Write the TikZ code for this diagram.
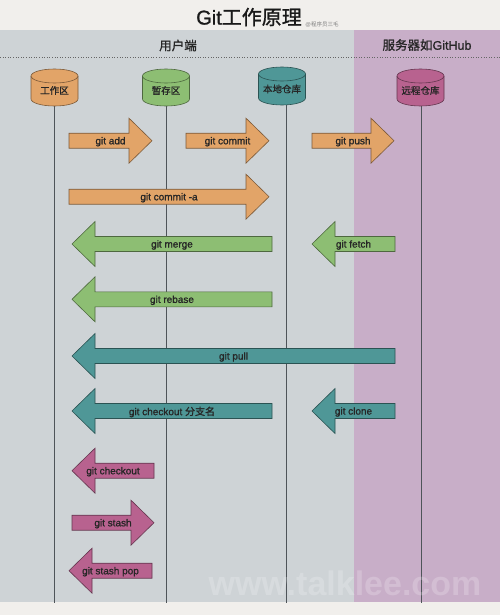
\documentclass[tikz,border=0pt]{standalone}
\usepackage{fontspec}
\setmainfont{Liberation Sans}
\newfontfamily\lblf[FakeBold=1.2]{Liberation Sans}
\newfontfamily\cjk[FakeBold=1.2]{Noto Sans CJK SC}
\newfontfamily\cjkplain{Noto Sans CJK SC}
\definecolor{titlebg}{HTML}{F1EFEC}
\definecolor{graybg}{HTML}{CED3D6}
\definecolor{purplebg}{HTML}{C8AEC8}
\definecolor{lifec}{HTML}{4E5459}
\definecolor{corange}{HTML}{E2A468}
\definecolor{cgreen}{HTML}{8DBE73}
\definecolor{cteal}{HTML}{4F9797}
\definecolor{cmag}{HTML}{B8628F}
\newcommand\rarrowbox[6]{% x1 tipx y color name label
  \filldraw[fill=#4,draw=#4!55!black,line width=0.6pt] (#1,#3-7.5) -- (#2-23,#3-7.5) -- (#2-23,#3-22.5) -- (#2,#3) -- (#2-23,#3+22.5) -- (#2-23,#3+7.5) -- (#1,#3+7.5) -- cycle;
  \node[lbl] (#5) at ({(#1+#2)/2},#3+1) {#6};}
\newcommand\larrowbox[6]{% tipx x2 y color name label
  \filldraw[fill=#4,draw=#4!55!black,line width=0.6pt] (#2,#3-7.5) -- (#1+23,#3-7.5) -- (#1+23,#3-22.5) -- (#1,#3) -- (#1+23,#3+22.5) -- (#1+23,#3+7.5) -- (#2,#3+7.5) -- cycle;
  \node[lbl] (#5) at ({(#1+#2)/2},#3+1) {#6};}
\newcommand\cylnode[6]{% cx top bottom color name label
  \filldraw[fill=#4,draw=#4!55!black,line width=0.6pt] (#1-23.5,#2+7) -- (#1-23.5,#3-7) arc[start angle=180,end angle=360,x radius=23.5pt,y radius=7pt] -- (#1+23.5,#2+7) arc[start angle=0,end angle=180,x radius=23.5pt,y radius=7pt] -- cycle;
  \draw[#4!55!black,line width=0.6pt] (#1-23.5,#2+7) arc[start angle=180,end angle=360,x radius=23.5pt,y radius=7pt];
  \node[cyllbl] (#5) at (#1,{(#2+#3)/2+3}) {\cjk #6};}
\begin{document}
\begin{tikzpicture}[x=1pt,y=-1pt,
  lbl/.style={font=\lblf\fontsize{10}{12}\selectfont, text=black!85, inner sep=0pt},
  cyllbl/.style={font=\fontsize{9.5}{11}\selectfont, text=black!85, inner sep=0pt},
  header/.style={font=\lblf\fontsize{12.5}{14}\selectfont, text=black!85},
  life/.style={draw=lifec, line width=0.8pt}]
\useasboundingbox (0,0) rectangle (500,615);
\fill[titlebg] (0,0) rectangle (500,615);
\fill[graybg] (0,30) rectangle (354,602);
\fill[purplebg] (354,30) rectangle (500,602);
\coordinate (dl) at (0,57.5);
\coordinate (dr) at (500,57.5);
\draw[gray!80!black, line width=0.6pt, dotted] (dl) -- (dr);
% title
\node[font=\fontsize{20}{24}\selectfont, text=black!90] (title) at (249,17) {{\lblf Git}{\cjk 工作原理}};
\node[font=\fontsize{5.5}{6}\selectfont, text=gray] (credit) at (322,25) {@{\cjkplain 程序员三毛}};
\node[header] (hu) at (178,45.5) {\cjk 用户端};
\node[header] (hs) at (427,45) {{\cjk 服务器如}GitHub};
% lifelines
\coordinate (wkb) at (54,106);  \coordinate (wke) at (54,603);
\coordinate (stb) at (166,106); \coordinate (ste) at (166,603);
\coordinate (lob) at (286,105); \coordinate (loe) at (286,603);
\coordinate (reb) at (421,106); \coordinate (ree) at (421,603);
\draw[life] (wkb) -- (wke);
\draw[life] (stb) -- (ste);
\draw[life] (lob) -- (loe);
\draw[life] (reb) -- (ree);
% cylinders
\cylnode{54.5}{69}{106}{corange}{wk}{工作区}
\cylnode{166}{69}{106}{cgreen}{st}{暂存区}
\cylnode{282}{67}{105}{cteal}{lo}{本地仓库}
\cylnode{420.5}{69}{106}{cmag}{re}{远程仓库}
% arrows
\rarrowbox{69}{152}{140.7}{corange}{add}{git add}
\rarrowbox{186}{269}{140.7}{corange}{commit}{git commit}
\rarrowbox{312}{394}{140.7}{corange}{push}{git push}
\rarrowbox{69}{269}{196.7}{corange}{commita}{git commit -a}
\larrowbox{72}{272}{244}{cgreen}{merge}{git merge}
\larrowbox{312}{395}{244}{cgreen}{fetch}{git fetch}
\larrowbox{72}{272}{299.3}{cgreen}{rebase}{git rebase}
\larrowbox{72}{395}{356}{cteal}{pull}{git pull}
\larrowbox{72}{272}{411}{cteal}{cobranch}{git checkout {\cjk 分支名}}
\larrowbox{312}{395}{411}{cteal}{clone}{git clone}
\larrowbox{72}{154}{470.7}{cmag}{checkout}{git checkout}
\rarrowbox{72}{154}{522.7}{cmag}{stash}{git stash}
\larrowbox{69}{152}{570.7}{cmag}{stashpop}{git stash pop}
% watermark
\node[font=\fontsize{34}{36}\selectfont\bfseries, text=white, opacity=0.2] (wm) at (345,583) {www.talklee.com};
\end{tikzpicture}
\end{document}
